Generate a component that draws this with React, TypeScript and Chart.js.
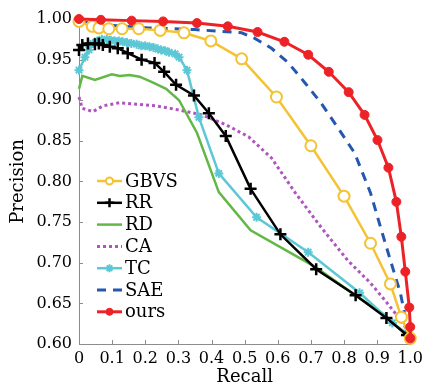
import React, { useEffect, useRef } from 'react';
import { Chart, registerables } from 'chart.js';
import { drawPoint } from 'chart.js/helpers';

Chart.register(...registerables);

const seriesNames = ['GBVS', 'RR', 'RD', 'CA', 'TC', 'SAE', 'ours'];

const gbvsRecall = [0, 0.04, 0.06, 0.09, 0.13, 0.18, 0.245, 0.317, 0.398, 0.491, 0.596, 0.7, 0.8, 0.88, 0.94, 0.973, 1.0];
const gbvsPrecision = [0.997, 0.991, 0.989, 0.988, 0.988, 0.988, 0.986, 0.983, 0.973, 0.951, 0.904, 0.844, 0.782, 0.724, 0.674, 0.633, 0.607];

const rrRecall = [0, 0.01, 0.027, 0.048, 0.06, 0.072, 0.093, 0.117, 0.147, 0.189, 0.228, 0.257, 0.293, 0.347, 0.392, 0.443, 0.518, 0.608, 0.716, 0.835, 0.928, 0.99];
const rrPrecision = [0.962, 0.968, 0.97, 0.969, 0.97, 0.968, 0.966, 0.964, 0.958, 0.95, 0.946, 0.935, 0.919, 0.906, 0.884, 0.856, 0.791, 0.735, 0.692, 0.66, 0.632, 0.611];

const rdRecall = [0, 0.01, 0.048, 0.099, 0.123, 0.153, 0.183, 0.222, 0.263, 0.302, 0.356, 0.422, 0.518, 0.713, 0.841, 0.922, 0.982];
const rdPrecision = [0.914, 0.93, 0.925, 0.932, 0.93, 0.931, 0.929, 0.922, 0.914, 0.9, 0.86, 0.787, 0.74, 0.695, 0.658, 0.636, 0.613];

const caRecall = [0, 0.01, 0.042, 0.072, 0.123, 0.174, 0.234, 0.302, 0.371, 0.443, 0.512, 0.581, 0.653, 0.73, 0.811, 0.88, 0.931, 0.97, 0.997];
const caPrecision = [0.904, 0.89, 0.886, 0.893, 0.897, 0.895, 0.893, 0.888, 0.882, 0.87, 0.855, 0.829, 0.786, 0.744, 0.703, 0.675, 0.65, 0.63, 0.613];

const tcRecall = [0, 0.018, 0.03, 0.042, 0.055, 0.069, 0.084, 0.096, 0.108, 0.12, 0.132, 0.145, 0.158, 0.174, 0.188, 0.2, 0.213, 0.225, 0.238, 0.248, 0.26, 0.272, 0.29, 0.302, 0.326, 0.362, 0.422, 0.536, 0.692, 0.847, 0.946, 0.99];
const tcPrecision = [0.937, 0.953, 0.962, 0.97, 0.973, 0.975, 0.975, 0.974, 0.973, 0.973, 0.972, 0.971, 0.97, 0.969, 0.967, 0.967, 0.966, 0.965, 0.963, 0.962, 0.961, 0.959, 0.957, 0.953, 0.937, 0.879, 0.81, 0.756, 0.713, 0.663, 0.626, 0.613];

const saeRecall = [0, 0.072, 0.21, 0.35, 0.491, 0.527, 0.581, 0.632, 0.683, 0.73, 0.78, 0.832, 0.88, 0.91, 0.94, 0.97, 0.985, 0.997];
const saePrecision = [0.997, 0.993, 0.989, 0.987, 0.983, 0.977, 0.964, 0.946, 0.921, 0.897, 0.867, 0.835, 0.786, 0.744, 0.703, 0.663, 0.633, 0.613];

const oursRecall = [0, 0.066, 0.159, 0.254, 0.356, 0.449, 0.539, 0.62, 0.692, 0.754, 0.814, 0.862, 0.901, 0.934, 0.958, 0.973, 0.985, 0.997, 1.0, 1.0];
const oursPrecision = [1.0, 0.999, 0.998, 0.997, 0.995, 0.991, 0.984, 0.972, 0.956, 0.935, 0.91, 0.882, 0.851, 0.817, 0.775, 0.732, 0.689, 0.645, 0.621, 0.607];

const xTickValues = [0, 0.1, 0.2, 0.3, 0.4, 0.5, 0.6, 0.7, 0.8, 0.9, 1.0];
const yTickValues = [0.6, 0.65, 0.7, 0.75, 0.8, 0.85, 0.9, 0.95, 1.0];

const toPoints = (xs: number[], ys: number[]) => xs.map((x, i) => ({ x, y: ys[i] }));

const FONT = "'DejaVu Serif', serif";

const inwardTicks = {
  id: 'inwardTicks',
  beforeDatasetsDraw(chart: any) {
    const { ctx, chartArea, scales } = chart;
    ctx.save();
    ctx.strokeStyle = '#8c8c8c';
    ctx.lineWidth = 1;
    ctx.beginPath();
    xTickValues.forEach((v) => {
      const px = Math.round(scales.x.getPixelForValue(v)) + 0.5;
      ctx.moveTo(px, chartArea.bottom);
      ctx.lineTo(px, chartArea.bottom - 4);
    });
    yTickValues.forEach((v) => {
      const py = Math.round(scales.y.getPixelForValue(v)) + 0.5;
      ctx.moveTo(chartArea.left, py);
      ctx.lineTo(chartArea.left + 4, py);
    });
    ctx.stroke();
    ctx.restore();
  },
};

const innerLegend = {
  id: 'innerLegend',
  afterDraw(chart: any) {
    const { ctx, chartArea } = chart;
    const x0 = chartArea.left + 18;
    const lineLen = 25;
    const rowH = 21.8;
    const y0 = chartArea.top + 162;
    ctx.save();
    seriesNames.forEach((name, i) => {
      const ds = chart.data.datasets.find((d: any) => d.label === name);
      if (!ds) return;
      const y = y0 + i * rowH;
      ctx.save();
      ctx.strokeStyle = ds.borderColor;
      ctx.lineWidth = ds.borderWidth;
      ctx.setLineDash(ds.borderDash || []);
      ctx.beginPath();
      ctx.moveTo(x0, y);
      ctx.lineTo(x0 + lineLen, y);
      ctx.stroke();
      ctx.restore();
      if (ds.legendRadius > 0) {
        ctx.save();
        ctx.strokeStyle = ds.pointBorderColor || ds.borderColor;
        ctx.fillStyle = ds.pointBackgroundColor || ds.borderColor;
        ctx.lineWidth = ds.pointBorderWidth;
        ctx.setLineDash([]);
        drawPoint(ctx, { pointStyle: ds.pointStyle, radius: ds.legendRadius, rotation: 0, borderWidth: ds.pointBorderWidth }, x0 + lineLen / 2, y);
        ctx.restore();
      }
      ctx.fillStyle = '#000';
      ctx.font = `18px ${FONT}`;
      ctx.textBaseline = 'middle';
      ctx.textAlign = 'left';
      ctx.fillText(name, x0 + lineLen + 3, y + 1);
    });
    ctx.restore();
  },
};

export default function App() {
  const canvasRef = useRef<HTMLCanvasElement | null>(null);

  useEffect(() => {
    if (!canvasRef.current) return;
    Chart.defaults.font.family = FONT;
    const chart = new Chart(canvasRef.current, {
      type: 'line',
      data: {
        datasets: [
          {
            label: 'ours', data: toPoints(oursRecall, oursPrecision), order: 0,
            borderColor: '#ec2227', borderWidth: 3, pointStyle: 'circle', pointRadius: 4.5, legendRadius: 3.5,
            pointBackgroundColor: '#ec2227', pointBorderColor: '#ec2227', pointBorderWidth: 1,
          },
          {
            label: 'GBVS', data: toPoints(gbvsRecall, gbvsPrecision), order: 1,
            borderColor: '#f4c232', borderWidth: 2.5, pointStyle: 'circle', pointRadius: 5.5, legendRadius: 3.5,
            pointBackgroundColor: '#ffffff', pointBorderColor: '#f4c232', pointBorderWidth: 2,
          },
          {
            label: 'SAE', data: toPoints(saeRecall, saePrecision), order: 2,
            borderColor: '#2457b0', borderWidth: 3, borderDash: [9, 7], pointRadius: 0, legendRadius: 0, pointBorderWidth: 0,
          },
          {
            label: 'RR', data: toPoints(rrRecall, rrPrecision), order: 3,
            borderColor: '#000000', borderWidth: 2.5, pointStyle: 'cross', pointRadius: 6, legendRadius: 4.5,
            pointBorderColor: '#000000', pointBackgroundColor: '#000000', pointBorderWidth: 2.5,
          },
          {
            label: 'TC', data: toPoints(tcRecall, tcPrecision), order: 4,
            borderColor: '#5cc8d6', borderWidth: 2.5, pointStyle: 'star', pointRadius: 4.5, legendRadius: 4,
            pointBorderColor: '#5cc8d6', pointBackgroundColor: '#5cc8d6', pointBorderWidth: 2,
          },
          {
            label: 'RD', data: toPoints(rdRecall, rdPrecision), order: 5,
            borderColor: '#62b847', borderWidth: 2.5, pointRadius: 0, legendRadius: 0, pointBorderWidth: 0,
          },
          {
            label: 'CA', data: toPoints(caRecall, caPrecision), order: 6,
            borderColor: '#b055c0', borderWidth: 3, borderDash: [3, 3], pointRadius: 0, legendRadius: 0, pointBorderWidth: 0,
          },
        ].map((d: any) => ({ ...d, fill: false, tension: 0, clip: false, pointHoverRadius: d.pointRadius })),
      },
      options: {
        animation: false,
        responsive: false,
        maintainAspectRatio: false,
        events: [],
        layout: { padding: { top: 19, right: 15, bottom: 0, left: 0 } },
        plugins: {
          legend: { display: false },
          tooltip: { enabled: false },
        },
        scales: {
          x: {
            type: 'linear', min: 0, max: 1,
            afterBuildTicks: (s: any) => { s.ticks = xTickValues.map((v) => ({ value: v })); },
            afterFit: (s: any) => { s.height = 43; },
            ticks: {
              autoSkip: false, maxRotation: 0, padding: 5, color: '#000',
              font: { size: 16, family: FONT },
              callback: (v: any) => (v === 0 ? '0' : Number(v).toFixed(1)),
            },
            grid: { display: false, drawTicks: false },
            border: { display: true, color: '#8c8c8c', width: 1 },
            title: { display: true, text: 'Recall', color: '#000', font: { size: 18, family: FONT, lineHeight: 1 }, padding: { top: 0, bottom: 1 } },
          },
          y: {
            type: 'linear', min: 0.6, max: 1.0,
            afterBuildTicks: (s: any) => { s.ticks = yTickValues.map((v) => ({ value: v })); },
            afterFit: (s: any) => { s.width = 79; },
            ticks: {
              autoSkip: false, padding: 7, color: '#000',
              font: { size: 16, family: FONT },
              callback: (v: any) => Number(v).toFixed(2),
            },
            grid: { display: false, drawTicks: false },
            border: { display: true, color: '#8c8c8c', width: 1 },
            title: { display: true, text: 'Precision', color: '#000', font: { size: 18, family: FONT, lineHeight: 1.2 }, padding: { top: 8, bottom: 0 } },
          },
        },
      } as any,
      plugins: [inwardTicks, innerLegend],
    });
    return () => chart.destroy();
  }, []);

  return (
    <div style={{ position: 'absolute', left: 0, top: 0, width: 428, height: 387, background: '#fff' }}>
      <canvas ref={canvasRef} width={428} height={387} style={{ width: 428, height: 387, display: 'block' }} />
    </div>
  );
}
